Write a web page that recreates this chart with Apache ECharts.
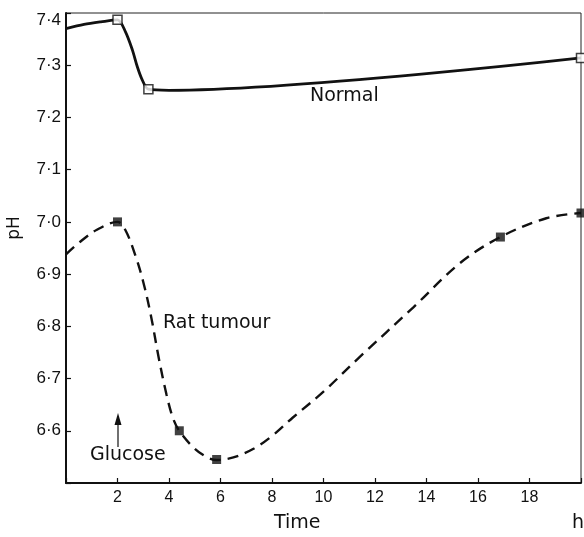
<!DOCTYPE html>
<html lang="en">
<head>
    <meta charset="UTF-8">
    <title>pH after glucose</title>
    <style>
        html, body { margin: 0; padding: 0; background: #fff; }
        #chart { width: 584px; height: 537px; }
    </style>
</head>
<body>
<div id="chart"></div>
<script src="https://cdn.jsdelivr.net/npm/echarts@6/dist/echarts.min.js"></script>
<script>
// values (time in h, pH)
var normalCurveX = [0, 0.7, 1.35, 2.0, 2.31, 2.58, 2.77, 2.96, 3.2, 4.0, 20];
var normalCurveY = [7.370, 7.378, 7.383, 7.387, 7.364, 7.329, 7.297, 7.272, 7.254, 7.252, 7.314];
var normalPointsX = [2, 3.2, 20];
var normalPointsY = [7.387, 7.254, 7.314];

var ratCurveX = [0, 0.5, 1.2, 2.0, 2.3, 2.7, 3.0, 3.3, 3.6, 3.9, 4.15, 4.4, 4.95, 5.45, 5.85, 6.5, 7.3, 8.0, 8.8, 10.0, 11.4, 13.5, 15.3, 16.87, 18.65, 20];
var ratCurveY = [6.938, 6.960, 6.985, 7.0, 6.985, 6.935, 6.885, 6.82, 6.74, 6.67, 6.625, 6.60, 6.568, 6.550, 6.544, 6.549, 6.566, 6.59, 6.625, 6.675, 6.741, 6.837, 6.921, 6.971, 7.007, 7.017];
var ratPointsX = [2, 4.4, 5.85, 16.87, 20];
var ratPointsY = [7.0, 6.6, 6.545, 6.971, 7.017];

var xTicks = [2, 4, 6, 8, 10, 12, 14, 16, 18];

function pairs(xs, ys) {
    return xs.map(function (x, i) { return [x, ys[i]]; });
}

var ink = '#111';
var chart = echarts.init(document.getElementById('chart'));
var option = {
    animation: false,
    backgroundColor: '#fff',
    textStyle: { fontFamily: 'Liberation Sans', color: ink },
    grid: {
        left: 66, right: 1, top: 13, bottom: 54,
        show: true, borderColor: '#222', borderWidth: 1
    },
    xAxis: {
        type: 'value', min: 0, max: 20, interval: 2,
        axisLine: { lineStyle: { color: ink, width: 2 } },
        axisTick: { inside: true, length: 5, lineStyle: { color: ink, width: 1.2 } },
        axisLabel: {
            color: ink, fontSize: 16, margin: 7,
            formatter: function (v) { return xTicks.indexOf(v) >= 0 ? String(v) : ''; }
        },
        splitLine: { show: false }
    },
    yAxis: {
        type: 'value', min: 6.5, max: 7.4, interval: 0.1,
        axisLine: { lineStyle: { color: ink, width: 2 } },
        axisTick: { inside: true, length: 5, lineStyle: { color: ink, width: 1.2 } },
        axisLabel: {
            color: ink, fontSize: 17, margin: 5,
            formatter: function (v) {
                if (Math.abs(v - 6.5) < 1e-6) return '';
                var s = v.toFixed(1).replace('.', '\u00b7');
                return Math.abs(v - 7.4) < 1e-6 ? '{top|' + s + '}' : s;
            },
            rich: { top: { fontSize: 17, color: ink, padding: [14, 0, 0, 0] } }
        },
        splitLine: { show: false }
    },
    series: [
        {
            name: 'Normal', type: 'line', smooth: 0.3, showSymbol: false,
            data: pairs(normalCurveX, normalCurveY),
            lineStyle: { color: ink, width: 2.8 }
        },
        {
            name: 'Normal points', type: 'scatter', symbol: 'rect', symbolSize: 9,
            data: pairs(normalPointsX, normalPointsY),
            itemStyle: { color: '#fff', borderColor: ink, borderWidth: 1.5 }, z: 3
        },
        {
            name: 'Rat tumour', type: 'line', smooth: 0.35, showSymbol: false,
            data: pairs(ratCurveX, ratCurveY),
            lineStyle: { color: ink, width: 2.4, type: [11, 7] }
        },
        {
            name: 'Rat tumour points', type: 'scatter', symbol: 'rect', symbolSize: 9,
            data: pairs(ratPointsX, ratPointsY),
            itemStyle: { color: ink }, z: 3
        }
    ],
    graphic: [
        { type: 'text', left: 310, top: 87, style: { text: 'Normal', font: '19px "DejaVu Sans"', fill: ink } },
        { type: 'text', left: 163, top: 314, style: { text: 'Rat tumour', font: '19px "DejaVu Sans"', fill: ink } },
        { type: 'text', left: 90, top: 446, style: { text: 'Glucose', font: '19px "DejaVu Sans"', fill: ink } },
        { type: 'line', shape: { x1: 118, y1: 447, x2: 118, y2: 422 }, style: { stroke: ink, lineWidth: 1.2 } },
        { type: 'polygon', shape: { points: [[118, 413], [114.5, 425], [121.5, 425]] }, style: { fill: ink } },
        { type: 'text', left: 274, top: 514, style: { text: 'Time', font: '19px "DejaVu Sans"', fill: ink } },
        { type: 'text', left: 572, top: 514, style: { text: 'h', font: '19px "DejaVu Sans"', fill: ink } },
        {
            type: 'text', x: 15, y: 228, rotation: Math.PI / 2,
            style: { text: 'pH', font: '17px "DejaVu Sans"', fill: ink, align: 'center', verticalAlign: 'middle' }
        }
    ]
};
chart.setOption(option);
</script>
</body>
</html>
